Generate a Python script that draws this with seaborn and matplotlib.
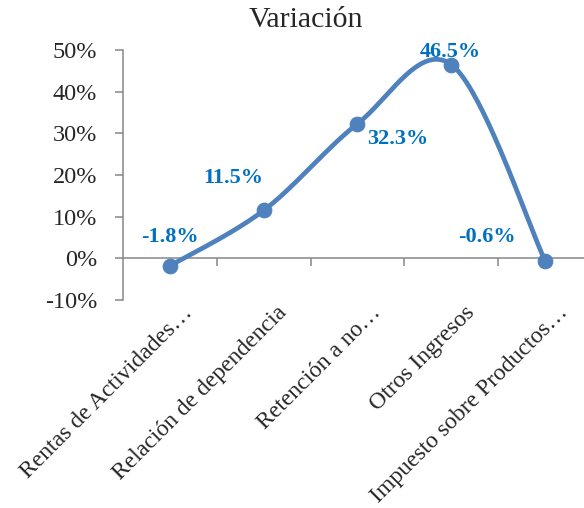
import numpy as np
import pandas as pd
import matplotlib
matplotlib.use('Agg')
import matplotlib.pyplot as plt
import matplotlib.transforms as mtransforms
from matplotlib.ticker import FuncFormatter
import seaborn as sns

# Datos del grafico
categorias = ['Rentas de Actividades…', 'Relación de dependencia', 'Retención a no…',
              'Otros Ingresos', 'Impuesto sobre Productos…']
variacion = [-1.8, 11.5, 32.3, 46.5, -0.6]
etiquetas = ['-1.8%', '11.5%', '32.3%', '46.5%', '-0.6%']
y_ticks = [-10, 0, 10, 20, 30, 40, 50]

# desplazamiento de cada etiqueta de dato (puntos)
offsets = [(0, 21), (-22, 23), (29, -11), (-1, 9), (-42, 17)]

sns.set_style('white')
plt.rcParams['font.family'] = ['Liberation Serif', 'DejaVu Serif']

line_color = '#4F81BD'
label_color = '#0070C0'
axis_color = '#868686'

df = pd.DataFrame({'pos': range(len(categorias)), 'valor': variacion})


def excel_smooth(xs, ys, n=40):
    # curva suavizada tipo Excel (bezier con puntos de control a 1/6)
    pts = np.column_stack([xs, ys]).astype(float)
    ext = np.vstack([pts[0], pts, pts[-1]])
    path = []
    for i in range(len(pts) - 1):
        p0, p1, p2, p3 = ext[i], ext[i + 1], ext[i + 2], ext[i + 3]
        c1 = p1 + (p2 - p0) / 6
        c2 = p2 - (p3 - p1) / 6
        t = np.linspace(0, 1, n)[:, None]
        seg = ((1 - t) ** 3) * p1 + 3 * ((1 - t) ** 2) * t * c1 + 3 * (1 - t) * t ** 2 * c2 + t ** 3 * p2
        path.append(seg if i == 0 else seg[1:])
    return np.vstack(path)


fig = plt.figure(figsize=(5.84, 5.08), dpi=100)
ax = fig.add_axes([0.2106, 0.4094, 0.8031, 0.4922])

curve = excel_smooth(df['pos'], df['valor'])
smooth_df = pd.DataFrame({'x': curve[:, 0], 'y': curve[:, 1]})
sns.lineplot(data=smooth_df, x='x', y='y', sort=False, color=line_color, lw=3.4, ax=ax)
sns.scatterplot(data=df, x='pos', y='valor', color=line_color, edgecolor=line_color,
                s=110, zorder=3, ax=ax)

for i, row in df.iterrows():
    ax.annotate(etiquetas[i], (row['pos'], row['valor']), xytext=offsets[i],
                textcoords='offset points', ha='center', va='center',
                fontsize=16, fontweight='bold', color=label_color)

ax.set_xlim(-0.5, len(categorias) - 0.5)
ax.set_ylim(-10, 50)
ax.set_yticks(y_ticks)
ax.yaxis.set_major_formatter(FuncFormatter(lambda v, p: f'{v:.0f}%'))
ax.tick_params(axis='y', labelsize=17.5, length=5.5, width=1.1, color=axis_color,
               direction='out', pad=13, left=True)

ax.set_xticks(range(len(categorias)))
ax.set_xticklabels(categorias, rotation=45, ha='right', va='center',
                   rotation_mode='anchor', fontsize=17)
ax.tick_params(axis='x', length=0, pad=7)
shift = mtransforms.ScaledTranslation(0.20, 0, fig.dpi_scale_trans)
for lab in ax.get_xticklabels():
    lab.set_transform(lab.get_transform() + shift)

ax.set_xlabel('')
ax.set_ylabel('')
for side in ['top', 'right', 'bottom']:
    ax.spines[side].set_visible(False)
ax.spines['left'].set_color(axis_color)
ax.spines['left'].set_linewidth(1.1)

# eje de categorias en el cero
zero = ax.secondary_xaxis(1 / 6)
zero.set_xticks([i + 0.5 for i in range(len(categorias) - 1)])
zero.set_xticklabels([])
zero.tick_params(length=5.5, width=1.1, color=axis_color, direction='out')
zero.spines['bottom'].set_color(axis_color)
zero.spines['bottom'].set_linewidth(1.1)

fig.text(306 / 584, 1 - 27 / 508, 'Variación', ha='center', va='baseline', fontsize=21.5)

fig.savefig('out.png', dpi=100)
